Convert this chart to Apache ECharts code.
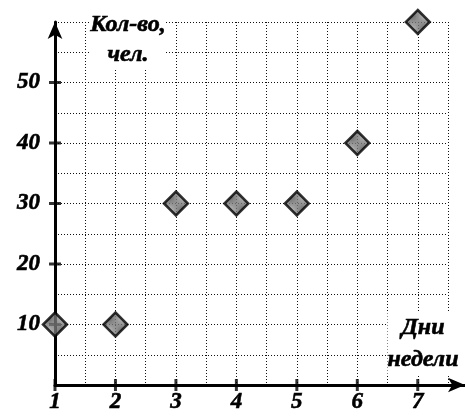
<!DOCTYPE html>
<html><head><meta charset="utf-8">
<script src="https://cdn.jsdelivr.net/npm/echarts@6/dist/echarts.min.js"></script>
<style>html,body{margin:0;padding:0;background:#fff}#c{width:465px;height:416px}</style>
</head><body><div id="c"></div>
<script>
// Data
var days = [1, 2, 3, 4, 5, 6, 7];
var counts = [10, 10, 30, 30, 30, 40, 60];
var xTickValues = [1, 2, 3, 4, 5, 6, 7];
var yTickValues = [10, 20, 30, 40, 50];
var yAxisTitle = 'Кол-во,\nчел.';
var xAxisTitle = 'Дни\nнедели';

var FONT = 'Liberation Serif';

// checkered fill pattern
var pc = document.createElement('canvas');
pc.width = 2; pc.height = 2;
var pctx = pc.getContext('2d');
pctx.fillStyle = '#a8a8a8'; pctx.fillRect(0,0,2,2);
pctx.fillStyle = '#484848'; pctx.fillRect(0,0,1,1); pctx.fillRect(1,1,1,1);

var chart = echarts.init(document.getElementById('c'), null, {renderer: 'canvas'});
var gridPos = {left: 55, right: 17, top: 22, bottom: 31};
var splitStyle = {color: '#111', width: 1, type: [1, 2]};
var labelStyle = {fontFamily: FONT, fontWeight: 'bold', fontStyle: 'italic', fontSize: 23, color: '#000',
                  textBorderColor: '#000', textBorderWidth: 0.6};

var option = {
  animation: false,
  backgroundColor: '#fff',
  grid: [
    {left: gridPos.left, right: gridPos.right, top: gridPos.top, bottom: gridPos.bottom},
    {left: gridPos.left, right: 0, top: gridPos.top, bottom: gridPos.bottom}
  ],
  xAxis: [{
    gridIndex: 0, type: 'value', min: 1, max: 7.5, interval: 0.5,
    axisLine: {show: false}, axisTick: {show: false},
    splitLine: {show: true, lineStyle: splitStyle},
    axisLabel: Object.assign({margin: 6, showMaxLabel: false,
      formatter: function (v) { return (Math.abs(v - Math.round(v)) < 1e-6) ? String(Math.round(v)) : ''; }}, labelStyle)
  }, {
    gridIndex: 1, type: 'value', min: 0, max: 1,
    axisLine: {show: true, symbol: ['none', 'arrow'], symbolSize: [11, 17], lineStyle: {color: '#000', width: 3}},
    axisTick: {show: false}, axisLabel: {show: false}, splitLine: {show: false}
  }],
  yAxis: [{
    gridIndex: 0, type: 'value', min: 0, max: 60, interval: 5,
    axisLine: {show: true, symbol: ['none', 'arrow'], symbolSize: [11, 17], lineStyle: {color: '#000', width: 3}},
    axisTick: {show: false},
    splitLine: {show: true, lineStyle: splitStyle},
    axisLabel: Object.assign({margin: 15, showMaxLabel: false, showMinLabel: false,
      formatter: function (v) { return (v % 10 === 0 && v > 0 && v < 60) ? String(v) : ''; }}, labelStyle)
  }, {
    gridIndex: 1, type: 'value', min: 0, max: 1, show: false
  }],
  graphic: [{
    type: 'text', x: 128, y: 10, z: 50,
    style: {text: yAxisTitle, fontFamily: FONT, fontWeight: 'bold', fontStyle: 'italic', fontSize: 24,
            fill: '#000', stroke: '#000', lineWidth: 0.6, align: 'center', lineHeight: 30, backgroundColor: '#fff'}
  }, {
    type: 'text', x: 423, y: 312, z: 50,
    style: {text: xAxisTitle, fontFamily: FONT, fontWeight: 'bold', fontStyle: 'italic', fontSize: 24,
            fill: '#000', stroke: '#000', lineWidth: 0.6, align: 'center', lineHeight: 32, backgroundColor: '#fff'}
  }],
  series: [{
    type: 'scatter', xAxisIndex: 0, yAxisIndex: 0, z: 5, silent: true, clip: false,
    symbol: 'rect', symbolSize: [3, 12], itemStyle: {color: '#000'},
    data: xTickValues.map(function (v) { return [v, 0]; })
  }, {
    type: 'scatter', xAxisIndex: 0, yAxisIndex: 0, z: 5, silent: true, clip: false,
    symbol: 'rect', symbolSize: [12, 3], itemStyle: {color: '#000'},
    data: yTickValues.map(function (v) { return [days[0], v]; })
  }, {
    type: 'scatter', xAxisIndex: 0, yAxisIndex: 0, z: 10, clip: false,
    symbol: 'diamond', symbolSize: 24,
    itemStyle: {color: {image: pc, repeat: 'repeat'}, borderColor: '#000', borderWidth: 2.5},
    data: days.map(function (d, i) { return [d, counts[i]]; })
  }]
};
chart.setOption(option);
</script></body></html>
